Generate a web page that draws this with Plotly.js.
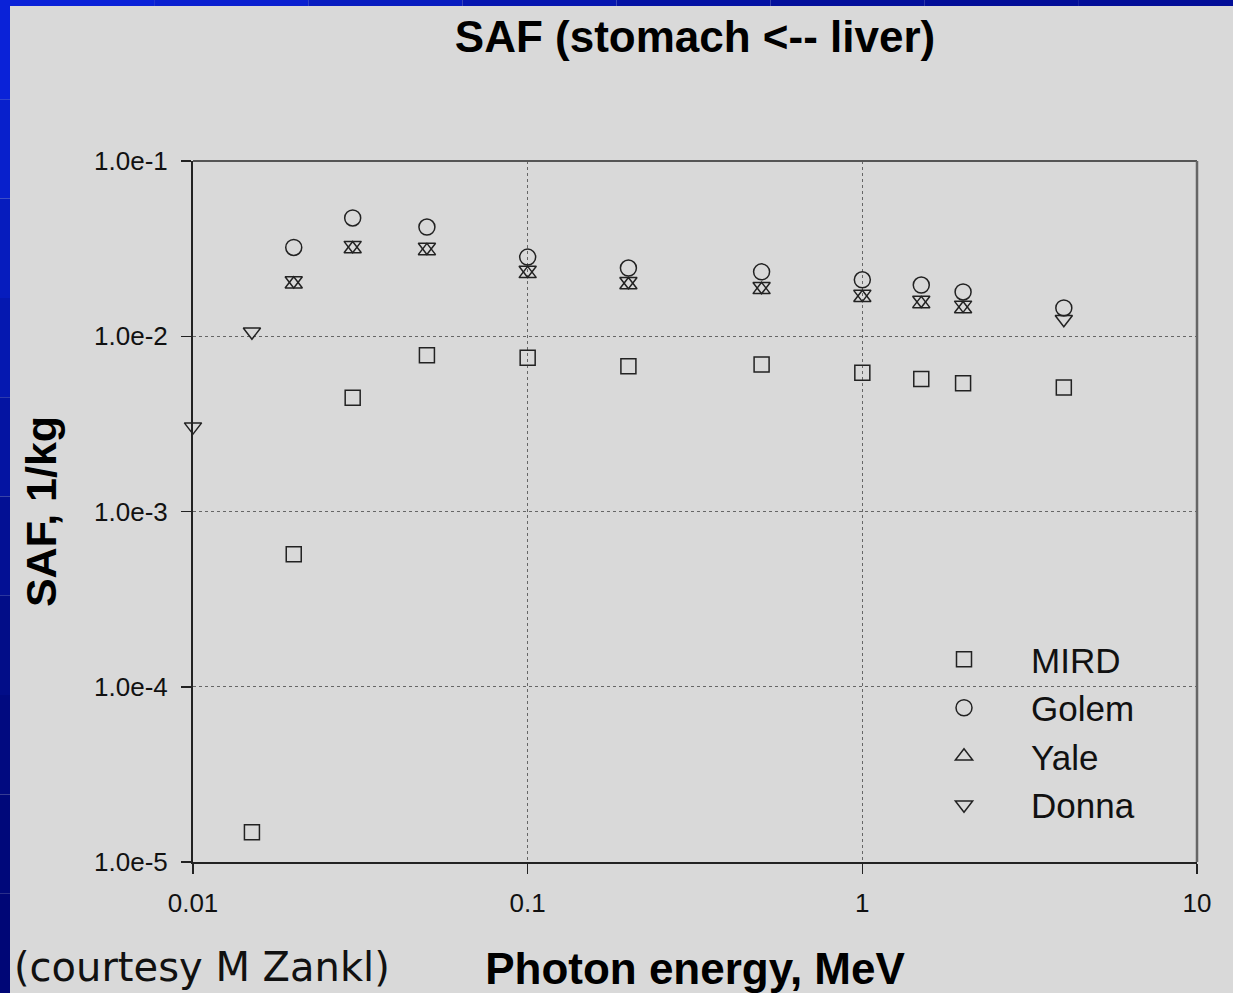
<!DOCTYPE html>
<html>
<head>
<meta charset="utf-8">
<script src="https://cdn.plot.ly/plotly-3.0.1.min.js"></script>
<style>html,body{margin:0;padding:0;background:#d9d9d9;}#chart{width:1233px;height:993px;}</style>
</head>
<body>
<div id="chart"></div>
<script>
// Photon energies (MeV)
const energyMIRD  = [0.015, 0.02, 0.03, 0.05, 0.1, 0.2, 0.5, 1, 1.5, 2, 4];
const safMIRD     = [1.48e-5, 5.7e-4, 4.45e-3, 7.8e-3, 7.55e-3, 6.75e-3, 6.9e-3, 6.2e-3, 5.7e-3, 5.4e-3, 5.1e-3];

const energyGolem = [0.02, 0.03, 0.05, 0.1, 0.2, 0.5, 1, 1.5, 2, 4];
const safGolem    = [0.0321, 0.0473, 0.0420, 0.0283, 0.0245, 0.0233, 0.0210, 0.0196, 0.0179, 0.0145];

const energyYale  = [0.02, 0.03, 0.05, 0.1, 0.2, 0.5, 1, 1.5, 2];
const safYale     = [0.0198, 0.0315, 0.0307, 0.0227, 0.0196, 0.0184, 0.0166, 0.0153, 0.0143];

const energyDonna = [0.01, 0.015, 0.02, 0.03, 0.05, 0.1, 0.2, 0.5, 1, 1.5, 2, 4];
const safDonna    = [0.00305, 0.0106, 0.0208, 0.0331, 0.0323, 0.0239, 0.0206, 0.0193, 0.0174, 0.0161, 0.0151, 0.0125];

const xTickVals = [0.01, 0.1, 1, 10];
const xTickText = ['0.01', '0.1', '1', '10'];
const yTickVals = [1e-5, 1e-4, 1e-3, 1e-2, 1e-1];
const yTickText = ['1.0e-5', '1.0e-4', '1.0e-3', '1.0e-2', '1.0e-1'];

const W = 1233, H = 993;
const M = {l: 193, r: 36, t: 161, b: 131};
const PW = W - M.l - M.r, PH = H - M.t - M.b;
const px2x = p => (p - M.l) / PW;
const px2y = p => (H - M.b - p) / PH;

const markerColor = '#222';
function series(name, x, y, symbol, size) {
  return {
    type: 'scatter', mode: 'markers', name: name, x: x, y: y,
    marker: {symbol: symbol, size: size, color: markerColor, line: {width: 1.5, color: markerColor}},
    cliponaxis: false
  };
}

const data = [
  series('MIRD', energyMIRD, safMIRD, 'square-open', 15),
  series('Golem', energyGolem, safGolem, 'circle-open', 16),
  series('Yale', energyYale, safYale, 'triangle-up-open', 15),
  series('Donna', energyDonna, safDonna, 'triangle-down-open', 15)
];

// slide frame decoration (blue strips)
const shapes = [];
const leftColors = ['#0a22d8', '#0820cc', '#061cbe', '#0518b0', '#0414a2', '#031094', '#020d88', '#010a80', '#00087a', '#000676'];
for (let i = 0; i < leftColors.length; i++) {
  const y0 = H * i / leftColors.length, y1 = H * (i + 1) / leftColors.length;
  shapes.push({type: 'rect', xref: 'paper', yref: 'paper', x0: px2x(0), x1: px2x(10), y0: px2y(y1), y1: px2y(y0),
    fillcolor: leftColors[i], line: {width: 0}, layer: 'above'});
}
const topColors = ['#0a22d8', '#0a20d0', '#081cc0', '#0616b0', '#0412a4', '#03109c', '#020e98', '#020e98'];
for (let i = 0; i < topColors.length; i++) {
  const x0 = W * i / topColors.length, x1 = W * (i + 1) / topColors.length;
  shapes.push({type: 'rect', xref: 'paper', yref: 'paper', x0: px2x(x0), x1: px2x(x1), y0: px2y(6), y1: px2y(0),
    fillcolor: topColors[i], line: {width: 0}, layer: 'above'});
}
// top and right frame lines (grey)
shapes.push({type: 'line', xref: 'paper', yref: 'paper', x0: 0, x1: 1, y0: 1, y1: 1, line: {color: '#555', width: 2}});
shapes.push({type: 'line', xref: 'paper', yref: 'paper', x0: 1, x1: 1, y0: 0, y1: 1, line: {color: '#666', width: 2.5}});

const layout = {
  width: W, height: H,
  margin: {l: M.l, r: M.r, t: M.t, b: M.b, pad: 0},
  paper_bgcolor: '#d9d9d9', plot_bgcolor: '#d9d9d9',
  font: {family: 'Liberation Sans, Arial, sans-serif', color: '#111'},
  showlegend: true,
  title: {
    text: '<b>SAF (stomach &lt;-- liver)</b>',
    font: {family: 'Liberation Sans, Arial, sans-serif', size: 44, color: '#000'},
    xref: 'paper', x: 0.5, xanchor: 'center',
    yref: 'container', y: 1 - 37 / H, yanchor: 'middle'
  },
  xaxis: {
    type: 'log', range: [-2, 1],
    tickmode: 'array', tickvals: xTickVals, ticktext: xTickText,
    ticks: 'outside', ticklen: 10, tickwidth: 1.5, tickcolor: '#222',
    tickfont: {size: 26, color: '#111'}, ticklabelstandoff: 7,
    showline: true, linecolor: '#222', linewidth: 2,
    showgrid: true, gridcolor: '#666', griddash: 'dot', gridwidth: 1.2,
    zeroline: false,
    title: {text: '<b>Photon energy, MeV</b>', font: {size: 44, color: '#000'}, standoff: 37}
  },
  yaxis: {
    type: 'log', range: [-5, -1],
    tickmode: 'array', tickvals: yTickVals, ticktext: yTickText,
    ticks: 'outside', ticklen: 10, tickwidth: 1.5, tickcolor: '#222',
    tickfont: {size: 26, color: '#111'}, ticklabelstandoff: 8,
    showline: true, linecolor: '#222', linewidth: 2,
    showgrid: true, gridcolor: '#666', griddash: 'dot', gridwidth: 1.2,
    zeroline: false,
    title: {text: '<b>SAF, 1/kg</b>', font: {size: 43, color: '#000'}, standoff: 24}
  },
  legend: {
    x: px2x(897), xanchor: 'left', y: px2y(630), yanchor: 'top',
    bgcolor: 'rgba(0,0,0,0)', borderwidth: 0,
    font: {size: 35, color: '#111'}, itemwidth: 124, tracegroupgap: 0
  },
  shapes: shapes,
  annotations: [{
    text: '(courtesy M Zankl)', showarrow: false,
    xref: 'paper', yref: 'paper', x: px2x(12), xanchor: 'left', y: px2y(992), yanchor: 'bottom',
    font: {family: 'DejaVu Sans, Verdana, sans-serif', size: 40, color: '#111'}
  }]
};

Plotly.newPlot('chart', data, layout, {displayModeBar: false, staticPlot: true});
</script>
</body>
</html>
